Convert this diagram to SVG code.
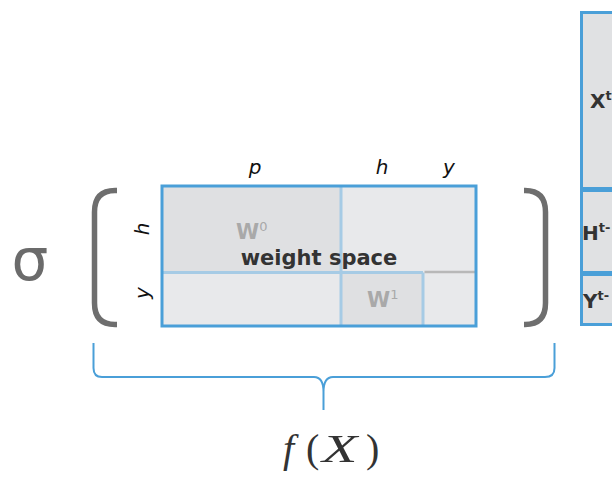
<svg xmlns="http://www.w3.org/2000/svg" width="612" height="477" viewBox="0 0 612 477">
<style>
.blue{stroke:#4a9fd8;fill:none}
.lblue{stroke:#a6cbe5;fill:none}
.bracket{stroke:#6e6e6e;stroke-width:5.5;fill:none;stroke-linecap:butt}
.lbl{font-family:"DejaVu Sans",sans-serif;font-style:italic;font-size:20px;fill:#111}
.bold{font-family:"DejaVu Sans",sans-serif;font-weight:bold;fill:#333}
.wt{font-family:"DejaVu Sans",sans-serif;font-weight:bold;font-size:21px;fill:#a9a9a9}
.sup{font-family:"DejaVu Sans",sans-serif;font-weight:normal;font-size:13px;fill:#a9a9a9}
.math{font-family:"Liberation Serif",serif;font-size:40px;fill:#333}
</style>
<rect width="612" height="477" fill="#ffffff"/>

<g id="sigma">
<text x="30" y="280" text-anchor="middle" font-family="DejaVu Sans, sans-serif" font-size="58" fill="#6b6b6b">σ</text>
</g>

<g id="brackets">
<path class="bracket" d="M117,190.5 H115 Q94.5,190.5 94.5,212 V303 Q94.5,324.5 115,324.5 H117"/>
<path class="bracket" d="M524,190.5 H525 Q545.5,190.5 545.5,212 V303 Q545.5,324.5 525,324.5 H524"/>
</g>

<g id="weight-space">
<rect x="162" y="186" width="314" height="140" fill="#e8e9eb"/>
<rect x="162" y="186" width="179" height="86.5" fill="#dfe0e2"/>
<rect x="341" y="272.5" width="82" height="53" fill="#dfe0e2"/>
<line x1="341" y1="186" x2="341" y2="326" class="lblue" stroke-width="3"/>
<line x1="162" y1="272.5" x2="423" y2="272.5" class="lblue" stroke-width="3"/>
<line x1="423" y1="272.5" x2="423" y2="326" class="lblue" stroke-width="3"/>
<line x1="424.5" y1="272" x2="476" y2="272" stroke="#b8b8b8" stroke-width="2.5"/>
<rect x="162" y="186" width="314" height="140" class="blue" stroke-width="3"/>
<text x="236" y="239" class="wt">W<tspan class="sup" dy="-8">0</tspan></text>
<text x="367" y="307" class="wt">W<tspan class="sup" dy="-8">1</tspan></text>
<text x="319" y="265" text-anchor="middle" class="bold" font-size="21">weight space</text>
<text x="255" y="174" text-anchor="middle" class="lbl">p</text>
<text x="382" y="174" text-anchor="middle" class="lbl">h</text>
<text x="449" y="174" text-anchor="middle" class="lbl">y</text>
<text transform="translate(149,229) rotate(-90)" text-anchor="middle" class="lbl">h</text>
<text transform="translate(149,293) rotate(-90)" text-anchor="middle" class="lbl">y</text>
</g>

<g id="state-column">
<rect x="581.5" y="12.5" width="40" height="312" fill="#e0e1e3"/>
<line x1="581.5" y1="189.5" x2="612" y2="189.5" class="blue" stroke-width="5"/>
<line x1="581.5" y1="273.5" x2="612" y2="273.5" class="blue" stroke-width="5"/>
<rect x="581.5" y="12.5" width="40" height="312" class="blue" stroke-width="3"/>
<text x="590" y="108" class="bold" font-size="20">X<tspan font-size="13" dy="-8">t</tspan></text>
<text x="582" y="240" class="bold" font-size="20">H<tspan font-size="13" dy="-8">t-</tspan></text>
<text x="583" y="308" class="bold" font-size="20">Y<tspan font-size="13" dy="-8">t-</tspan></text>
</g>

<g id="connectors">
<path class="blue" stroke-width="2" d="M93.5,343 V368 Q93.5,377 102,377 H314 Q323.5,377 323.5,392 V410 M323.5,392 Q323.5,377 333,377 H545 Q554.5,377 554.5,368 V343"/>
</g>

<g id="fx">
<text y="462" class="math"><tspan x="283" font-style="italic">f</tspan><tspan x="306">(</tspan><tspan x="366">)</tspan></text>
<text transform="translate(322,462) scale(1.45,1)" class="math" font-size="38" font-style="italic">X</text>
</g>
</svg>
